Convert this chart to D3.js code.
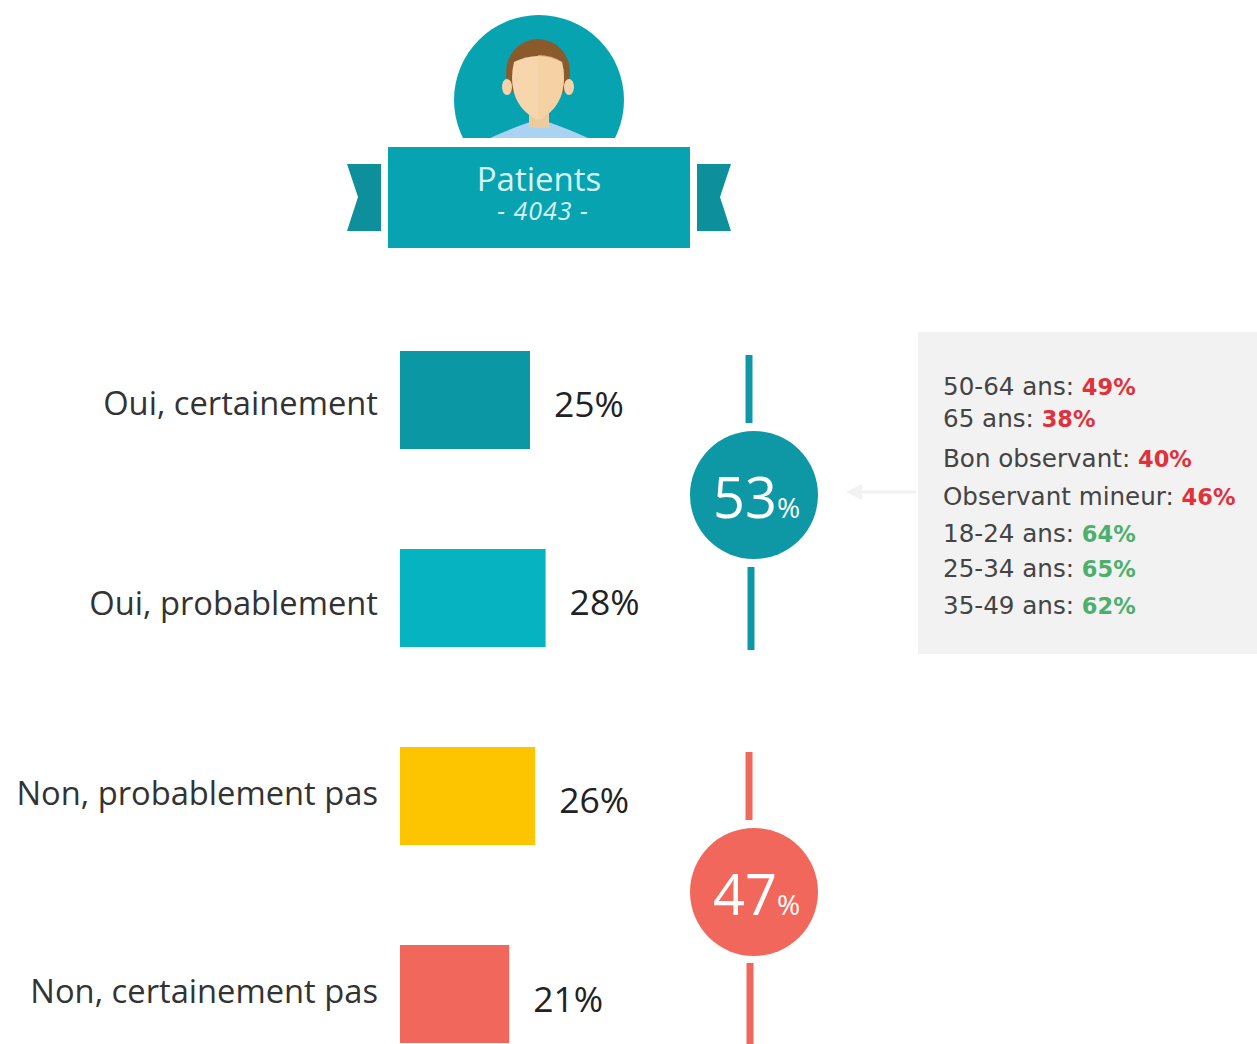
<!DOCTYPE html>
<html>
<head>
<meta charset="utf-8">
<title>Patients</title>
<script src="https://cdn.jsdelivr.net/npm/d3@7"></script>
<style>
html, body { margin: 0; padding: 0; background: #fff; }
svg { display: block; }
text { font-family: "Open Sans", sans-serif; }
</style>
</head>
<body>
<script>
var categories = ["Oui, certainement", "Oui, probablement", "Non, probablement pas", "Non, certainement pas"];
var values = [25, 28, 26, 21];
var barColors = ["#0b97a3", "#05b4c0", "#fdc500", "#f2675c"];

var groupTotals = [53, 47];
var groupColors = ["#0e98a6", "#f2675c"];

var noteLabels = ["50-64 ans: ", "65 ans: ", "Bon observant: ", "Observant mineur: ", "18-24 ans: ", "25-34 ans: ", "35-49 ans: "];
var noteValues = [49, 38, 40, 46, 64, 65, 62];
var noteKinds = ["low", "low", "low", "low", "high", "high", "high"];
var noteY = [395, 427, 467, 505, 542, 577, 614];

var width = 1257, height = 1044;
var svg = d3.select("body").append("svg").attr("width", width).attr("height", height);

// bars
var x = d3.scaleLinear().domain([0, 25]).range([400, 530]);
var y = d3.scaleBand().domain(categories).range([351, 1043]).paddingInner(0.505);

var labelOffsets = [15, 17, 9, 9];
var valueOffsets = [17, 17, 17, 18];

svg.selectAll("rect.bar").data(categories).enter().append("rect")
  .attr("class", "bar")
  .attr("x", x(0))
  .attr("y", function(d) { return y(d); })
  .attr("width", function(d, i) { return x(values[i]) - x(0); })
  .attr("height", y.bandwidth())
  .attr("fill", function(d, i) { return barColors[i]; });

svg.selectAll("text.cat").data(categories).enter().append("text")
  .attr("class", "cat")
  .attr("x", 378)
  .attr("y", function(d, i) { return y(d) + y.bandwidth() / 2 + labelOffsets[i]; })
  .attr("text-anchor", "end")
  .attr("font-size", 32.7)
  .attr("fill", "#333")
  .text(function(d) { return d; });

svg.selectAll("text.val").data(categories).enter().append("text")
  .attr("class", "val")
  .attr("x", function(d, i) { return x(values[i]) + 24; })
  .attr("y", function(d, i) { return y(d) + y.bandwidth() / 2 + valueOffsets[i]; })
  .attr("font-size", 35.5)
  .attr("fill", "#222")
  .text(function(d, i) { return values[i] + "%"; });

// group markers
var circleY = [495, 892];
var circleX = [754, 754];
var stems = [[749, 355, 423, 751, 567, 650], [749, 752, 820, 750, 963, 1044]];

groupTotals.forEach(function(t, i) {
  var s = stems[i];
  svg.append("line").attr("x1", s[0]).attr("x2", s[0]).attr("y1", s[1]).attr("y2", s[2])
    .attr("stroke", groupColors[i]).attr("stroke-width", 7);
  svg.append("line").attr("x1", s[3]).attr("x2", s[3]).attr("y1", s[4]).attr("y2", s[5])
    .attr("stroke", groupColors[i]).attr("stroke-width", 7);
  svg.append("circle").attr("cx", circleX[i]).attr("cy", circleY[i]).attr("r", 64).attr("fill", groupColors[i]);
  var label = svg.append("text").attr("x", 713).attr("y", circleY[i] + 23).attr("fill", "#fff");
  label.append("tspan").attr("font-size", 56).text(t);
  label.append("tspan").attr("font-size", 28).text("%");
});

// note box
svg.append("rect").attr("x", 918).attr("y", 332).attr("width", 339).attr("height", 322).attr("fill", "#f2f2f2");
svg.append("line").attr("x1", 916).attr("x2", 858).attr("y1", 492).attr("y2", 492)
  .attr("stroke", "#f2f2f2").attr("stroke-width", 3);
svg.append("path").attr("d", "M846,492L862,484L862,500Z").attr("fill", "#f2f2f2");

var notes = svg.selectAll("text.note").data(noteLabels).enter().append("text")
  .attr("class", "note")
  .attr("x", 943)
  .attr("y", function(d, i) { return noteY[i]; })
  .attr("font-size", 24.6)
  .attr("fill", "#444")
  .style("font-family", "'DejaVu Sans', sans-serif");
notes.append("tspan").text(function(d) { return d; });
notes.append("tspan")
  .attr("font-weight", 700)
  .attr("font-size", 22.5)
  .attr("fill", function(d, i) { return noteKinds[i] == "low" ? "#e0323c" : "#4cb06c"; })
  .text(function(d, i) { return noteValues[i] + "%"; });

// header: avatar
var defs = svg.append("defs");
defs.append("clipPath").attr("id", "crop").append("rect").attr("x", 440).attr("y", 0).attr("width", 200).attr("height", 138);
var avatar = svg.append("g").attr("clip-path", "url(#crop)");
avatar.append("circle").attr("cx", 539).attr("cy", 100).attr("r", 85).attr("fill", "#07a3b1");
avatar.append("path").attr("d", "M490,138Q512,128 530,122L548,122Q566,128 588,138Z").attr("fill", "#a9d3f0");
avatar.append("rect").attr("x", 529).attr("y", 105).attr("width", 20).attr("height", 23).attr("fill", "#eccb9f");
avatar.append("ellipse").attr("cx", 538).attr("cy", 72).attr("rx", 32).attr("ry", 33).attr("fill", "#8a5a2b");
avatar.append("ellipse").attr("cx", 507).attr("cy", 87).attr("rx", 5).attr("ry", 8).attr("fill", "#f6d3aa");
avatar.append("ellipse").attr("cx", 569).attr("cy", 87).attr("rx", 5).attr("ry", 8).attr("fill", "#f6d3aa");
avatar.append("path").attr("d", "M514,62Q538,50 562,62Q566,78 562,93Q556,112 538,120Q520,112 514,93Q510,78 514,62Z").attr("fill", "#f7d5ad");
avatar.append("path").attr("d", "M538,55Q552,55 562,62Q566,78 562,93Q556,112 538,120Z").attr("fill", "#f3cfa0").attr("opacity", 0.7);

// header: ribbon
svg.append("path").attr("d", "M347,164L381,164L381,231L347,231L358,197Z").attr("fill", "#0d8f9c");
svg.append("path").attr("d", "M697,164L731,164L720,197L731,231L697,231Z").attr("fill", "#0d8f9c");
svg.append("rect").attr("x", 388).attr("y", 147).attr("width", 302).attr("height", 101).attr("fill", "#07a3b1");
svg.append("text").attr("x", 539).attr("y", 191).attr("text-anchor", "middle").attr("font-size", 33)
  .attr("fill", "#d6f4f6").text("Patients");
svg.append("text").attr("x", 543).attr("y", 220).attr("text-anchor", "middle").attr("font-size", 25)
  .attr("font-style", "italic").attr("letter-spacing", 1).attr("fill", "#d6f4f6").text("- 4043 -");
</script>
</body>
</html>
